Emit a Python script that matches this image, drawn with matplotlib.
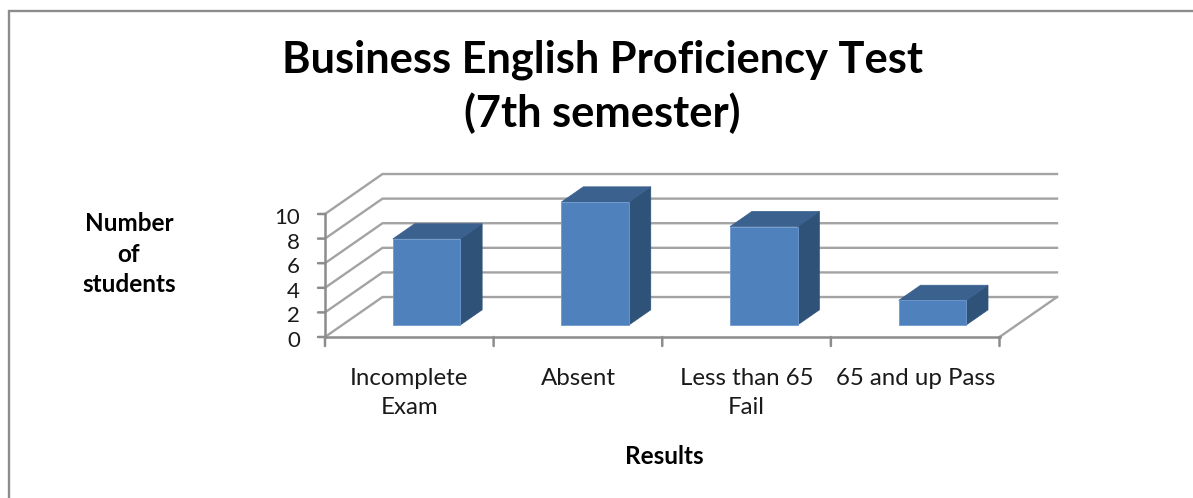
import matplotlib
matplotlib.use('Agg')
import matplotlib.pyplot as plt
from matplotlib.lines import Line2D
from matplotlib.patches import Polygon

plt.rcParams['font.family'] = ['Lato', 'DejaVu Sans']

# chart data
categories = ['Incomplete\nExam', 'Absent', 'Less than 65\nFail', '65 and up Pass']
values = [7, 10, 8, 2]
y_ticks = [0, 2, 4, 6, 8, 10]

W, H = 1193, 498
GRID = '#a3a3a3'
AXIS = '#8c8c8c'

# depth of the 3d box, in data units at z=1
DX = 0.341
DY = 3.25


def proj(x, y, z):
    return (x + DX * z, y + DY * z)


fig = plt.figure(figsize=(W / 100, H / 100), dpi=100)
fig.patch.set_facecolor('white')

# outer border only shows on the top and left, the rest is cropped
fig.add_artist(Line2D([8.5 / W, 8.5 / W, 1], [0, 1 - 11 / H, 1 - 11 / H], transform=fig.transFigure,
                      color='#8c8c8c', lw=1.7, solid_joinstyle='miter'))

# axes is the front plane of the 3d box
ax = fig.add_axes([325 / W, 1 - 337 / H, 674.5 / W, 123 / H])
ax.set_xlim(0, len(categories))
ax.set_ylim(0, 10)
ax.axis('off')
n = len(categories)

# back wall and side wall gridlines
for t in y_ticks:
    x0, y0 = proj(0, t, 0)
    x1, y1 = proj(0, t, 1)
    x2, y2 = proj(n, t, 1)
    ax.plot([x0, x1, x2], [y0, y1, y1], color=GRID, lw=1.7, clip_on=False, zorder=1,
            solid_joinstyle='miter')

# floor right edge
x0, y0 = proj(n, 0, 0)
x1, y1 = proj(n, 0, 1)
ax.plot([x0, x1], [y0, y1], color=GRID, lw=1.7, clip_on=False, zorder=1)

# axis lines and ticks
ax.plot([0, 0], [0, 10], color=AXIS, lw=1.8, clip_on=False, zorder=2)
ax.plot([0, n], [0, 0], color=AXIS, lw=1.8, clip_on=False, zorder=2)
for t in y_ticks:
    ax.annotate('', xy=(0, t), xytext=(-7, 0), textcoords='offset pixels',
                arrowprops=dict(arrowstyle='-', color=AXIS, lw=1.8, shrinkA=0, shrinkB=0))
    ax.annotate(str(t), xy=(0, t), xytext=(-25, -4), textcoords='offset pixels',
                ha='right', va='center', fontsize=16, color='#1a1a1a', annotation_clip=False)
for i in range(n + 1):
    ax.annotate('', xy=(i, 0), xytext=(0, -9), textcoords='offset pixels',
                arrowprops=dict(arrowstyle='-', color=AXIS, lw=1.8, shrinkA=0, shrinkB=0))

# bars
bar_w = 0.4
z0, z1 = 0.3, 0.68
for i, v in enumerate(values):
    left = i + 0.5 - bar_w / 2
    right = i + 0.5 + bar_w / 2
    top = [proj(left, v, z0), proj(right, v, z0), proj(right, v, z1), proj(left, v, z1)]
    side = [proj(right, 0, z0), proj(right, v, z0), proj(right, v, z1), proj(right, 0, z1)]
    front = [proj(left, 0, z0), proj(right, 0, z0), proj(right, v, z0), proj(left, v, z0)]
    ax.add_patch(Polygon(side, closed=True, facecolor='#2f5278', edgecolor='#2f5278', lw=0.5, clip_on=False, zorder=3))
    ax.add_patch(Polygon(top, closed=True, facecolor='#3b618f', edgecolor='#3b618f', lw=0.5, clip_on=False, zorder=3))
    ax.add_patch(Polygon(front, closed=True, facecolor='#4f81bd', edgecolor='#6f9ad0', lw=0.6, clip_on=False, zorder=4))
    ax.annotate(categories[i], xy=(i + 0.5, 0), xytext=(0, -31), textcoords='offset pixels',
                ha='center', va='top', fontsize=17.3, color='#1a1a1a', linespacing=1.46,
                annotation_clip=False)

fig.text(602 / W, 1 - 87 / H, 'Business English Proficiency Test\n(7th semester)', ha='center', va='center',
         fontsize=31.2, fontweight='bold', color='black', linespacing=1.35)
fig.text(129 / W, 1 - 254 / H, 'Number\nof\nstudents', ha='center', va='center',
         fontsize=17.5, fontweight='bold', color='black', linespacing=1.37)
fig.text(664 / W, 1 - 456 / H, 'Results', ha='center', va='center',
         fontsize=17.5, fontweight='bold', color='black')

fig.savefig('out.png', dpi=100)
